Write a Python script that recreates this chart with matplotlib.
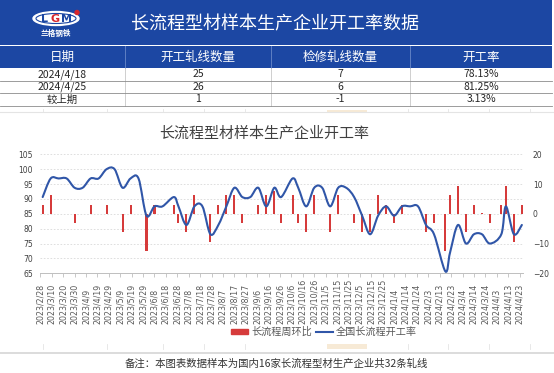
import matplotlib
matplotlib.use("Agg")
import matplotlib.pyplot as plt
import matplotlib.dates as mdates
from matplotlib.path import Path
from matplotlib.patches import PathPatch, Rectangle, Ellipse, Circle
from matplotlib.lines import Line2D
from matplotlib.ticker import MultipleLocator
import numpy as np
import pandas as pd

CJK = ["Noto Sans CJK SC", "DejaVu Sans"]
plt.rcParams["font.family"] = CJK
plt.rcParams["axes.unicode_minus"] = True

# weekly survey dates (holiday weeks shifted)
dates = ["2023-03-02", "2023-03-09", "2023-03-16", "2023-03-23", "2023-03-30",
         "2023-04-06", "2023-04-13", "2023-04-20", "2023-04-27", "2023-05-04",
         "2023-05-11", "2023-05-18", "2023-05-25", "2023-06-01", "2023-06-08",
         "2023-06-15", "2023-06-25", "2023-06-29", "2023-07-06", "2023-07-13",
         "2023-07-20", "2023-07-27", "2023-08-03", "2023-08-10", "2023-08-17",
         "2023-08-24", "2023-08-31", "2023-09-07", "2023-09-14", "2023-09-21",
         "2023-09-27", "2023-10-07", "2023-10-12", "2023-10-19", "2023-10-26",
         "2023-11-02", "2023-11-09", "2023-11-16", "2023-11-23", "2023-11-30",
         "2023-12-07", "2023-12-14", "2023-12-21", "2023-12-28", "2024-01-04",
         "2024-01-11", "2024-01-18", "2024-01-25", "2024-02-01", "2024-02-08",
         "2024-02-18", "2024-02-22", "2024-02-29", "2024-03-07", "2024-03-14",
         "2024-03-21", "2024-03-28", "2024-04-07", "2024-04-11", "2024-04-18",
         "2024-04-25"]

# 全国长流程开工率 (%)
rate = [90.625, 96.875, 96.875, 96.875, 93.75, 93.75, 96.875, 96.875, 100, 100,
        93.75, 96.875, 96.875, 84.375, 87.5, 87.5, 90.625, 87.5, 81.25, 87.5,
        87.5, 78.125, 81.25, 87.5, 93.75, 90.625, 90.625, 93.75, 87.5, 93.75,
        90.625, 96.875, 93.75, 87.5, 93.75, 93.75, 87.5, 93.75, 93.75, 90.625,
        84.375, 78.125, 84.375, 87.5, 84.375, 87.5, 87.5, 87.5, 81.25, 78.125,
        65.625, 71.875, 81.25, 75, 78.125, 78.125, 75, 78.125, 87.5, 78.125,
        81.25]

# 长流程周环比
wow = [3.125, 6.25, 0, 0, -3.125, 0, 3.125, 0, 3.125, 0,
       -6.25, 3.125, 0, -12.5, 3.125, 0, 3.125, -3.125, -6.25, 6.25,
       0, -9.375, 3.125, 6.25, 6.25, -3.125, 0, 3.125, 6.25, 7.5,
       -3.125, 6.25, -3.125, -6.25, 6.25, 0, -6.25, 6.25, 0, -3.125,
       -6.25, -6.25, 6.25, 3.125, -3.125, 3.125, 0, 0, -6.25, -3.125,
       -12.5, 6.25, 9.375, -6.25, 3.125, 0.4, -3.125, 3.125, 9.375, -9.375,
       3.125]

table_cols = ["日期", "开工轧线数量", "检修轧线数量", "开工率"]
table_rows = [["2024/4/18", "25", "7", "78.13%"],
              ["2024/4/25", "26", "6", "81.25%"],
              ["较上期", "1", "-1", "3.13%"]]

title = "长流程型材样本生产企业开工率数据"
chart_title = "长流程型材样本生产企业开工率"
note = "备注：本图表数据样本为国内16家长流程型材生产企业共32条轧线"
bar_label = "长流程周环比"
line_label = "全国长流程开工率"

BLUE_HDR = "#1c47a3"
RED = "#d63b3b"
LINE = "#3056a8"

W, H = 554, 373
fig = plt.figure(figsize=(W / 100, H / 100), dpi=100)

# background layer in pixel coordinates
bg = fig.add_axes([0, 0, 1, 1])
bg.set_xlim(0, W)
bg.set_ylim(H, 0)
bg.axis("off")

# header band + logo + title
bg.add_patch(Rectangle((0, 0), 552, 45, color=BLUE_HDR, lw=0))
bg.add_patch(Rectangle((0, 45.8), 552, 22.2, color=BLUE_HDR, lw=0))
bg.add_patch(Ellipse((56, 18.5), 46, 14, facecolor="white", edgecolor="white"))
bg.add_patch(Ellipse((56, 18.5), 40, 10, facecolor="none", edgecolor=BLUE_HDR, lw=0.8))
for ch, cx, col in [("L", 45, BLUE_HDR), ("G", 55, "#d7262c"), ("M", 66, BLUE_HDR)]:
    bg.text(cx, 19, ch, color=col, fontsize=8, fontweight="bold",
            ha="center", va="center", family="DejaVu Sans")
bg.add_patch(Circle((77, 12.5), 2, color="#d7262c"))
bg.text(56, 33, "兰格钢铁", color="white", fontsize=5.5, fontweight="bold",
        ha="center", va="center")
bg.text(275.5, 24, title, color="white", fontsize=13, ha="center", va="center")

# table
col_edges = [0, 125, 271, 410, 552]
for i, name in enumerate(table_cols):
    cx = (col_edges[i] + col_edges[i + 1]) / 2
    bg.text(cx, 57, name, color="white", fontsize=9, ha="center", va="center")
for xe in col_edges[1:-1]:
    bg.plot([xe, xe], [45.8, 68], color="#5f7fc4", lw=0.7)
    bg.plot([xe, xe], [68, 106], color="#c8c8c8", lw=0.6)
row_y = [68, 80.5, 93, 106]
for yy in row_y[1:]:
    bg.plot([0, 552], [yy, yy], color="#8c8c8c", lw=0.6)
for r, row in enumerate(table_rows):
    cy = (row_y[r] + row_y[r + 1]) / 2
    for i, val in enumerate(row):
        cx = (col_edges[i] + col_edges[i + 1]) / 2
        bg.text(cx, cy, val, color="#262626", fontsize=7.5, ha="center", va="center")

# faint sheet lines above and below the chart
cell_x = [43, 107, 163, 204, 245, 408, 448, 489, 530]
bg.plot([0, W], [111.5, 111.5], color="#e4e4e4", lw=0.8)
bg.plot([0, W], [352.5, 352.5], color="#d6d6d6", lw=1.2)
for cx in cell_x:
    bg.plot([cx, cx], [109, 112], color="#e4e4e4", lw=0.6)
    bg.plot([cx, cx], [344, 349], color="#e4e4e4", lw=0.6)
bg.add_patch(Rectangle((327, 109.5), 40, 3.5, color="#f7ead6", lw=0))
bg.add_patch(Rectangle((327, 344), 40, 5, color="#f7ead6", lw=0))

bg.text(264.5, 134, chart_title, color="#404040", fontsize=10.8,
        ha="center", va="center")
bg.text(276, 364, note, color="#333333", fontsize=7.5, ha="center", va="center")

# chart
ax = fig.add_axes([40 / W, (H - 273.3) / H, (523 - 40) / W, 119 / H])
ax2 = ax.twinx()

x = mdates.date2num(pd.to_datetime(dates))
x0 = mdates.date2num(pd.Timestamp("2023-02-28"))
x1 = mdates.date2num(pd.Timestamp("2024-04-26"))

ax2.bar(x, wow, width=1.8, color=RED, zorder=2)
ax2.set_ylim(-20, 20)
ax2.set_yticks([-20, -10, 0, 10, 20])
ax2.yaxis.set_minor_locator(MultipleLocator(5))
ax2.set_axisbelow(True)
ax2.grid(axis="y", which="both", color="#d9d9d9", lw=0.6, linestyle=(0, (2, 2)))
ax2.tick_params(axis="y", which="both", length=0, labelsize=5.5,
                labelcolor="#404040", pad=7)
for lab in ax2.get_yticklabels():
    lab.set_family("DejaVu Sans")

# smoothed line (cubic bezier through each point)
P = np.column_stack([x, rate])
n = len(P)
verts = [P[0]]
codes = [Path.MOVETO]
for i in range(n - 1):
    p_prev = P[i - 1] if i > 0 else P[i]
    p_next = P[i + 2] if i + 2 < n else P[i + 1]
    c1 = P[i] + (P[i + 1] - p_prev) / 6
    c2 = P[i + 1] - (p_next - P[i]) / 6
    verts += [c1, c2, P[i + 1]]
    codes += [Path.CURVE4] * 3
ax.add_patch(PathPatch(Path(verts, codes), facecolor="none", edgecolor=LINE,
                       lw=1.5, capstyle="round", joinstyle="round"))
ax.set_ylim(65, 105)
ax.set_yticks(np.arange(65, 106, 5))
ax.set_xlim(x0 - 0.35, x1)
ax.tick_params(axis="y", length=0, labelsize=5.5, labelcolor="#404040", pad=5)
for lab in ax.get_yticklabels():
    lab.set_family("DejaVu Sans")

ticks = pd.date_range("2023-02-28", "2024-04-23", freq="10D")
ax.set_xticks(mdates.date2num(ticks))
ax.set_xticklabels([f"{d.year}/{d.month}/{d.day}" for d in ticks], rotation=90,
                   fontsize=5.7, color="#595959", family="DejaVu Sans")
# labels share a common baseline at the bottom, as in the source
ax.tick_params(axis="x", length=2.7, color="#bfbfbf", width=0.6, pad=34)
for lab in ax.get_xticklabels():
    lab.set_va("bottom")

ax.set_zorder(ax2.get_zorder() + 1)
ax.patch.set_visible(False)
ax2.patch.set_visible(False)
for a in (ax, ax2):
    for s in a.spines.values():
        s.set_visible(False)
ax.spines["bottom"].set_visible(True)
ax.spines["bottom"].set_color("#bfbfbf")
ax.spines["bottom"].set_linewidth(0.7)

handles = [Rectangle((0, 0), 1, 1, color=RED), Line2D([], [], color=LINE, lw=1.5)]
fig.legend(handles, [bar_label, line_label], loc="center",
           bbox_to_anchor=(324 / W, (H - 332) / H), ncol=2, frameon=False,
           fontsize=7.3, handlelength=1.7, handleheight=0.5, handletextpad=0.3,
           columnspacing=0.4, labelcolor="#595959")

fig.savefig("out.png", dpi=100)
